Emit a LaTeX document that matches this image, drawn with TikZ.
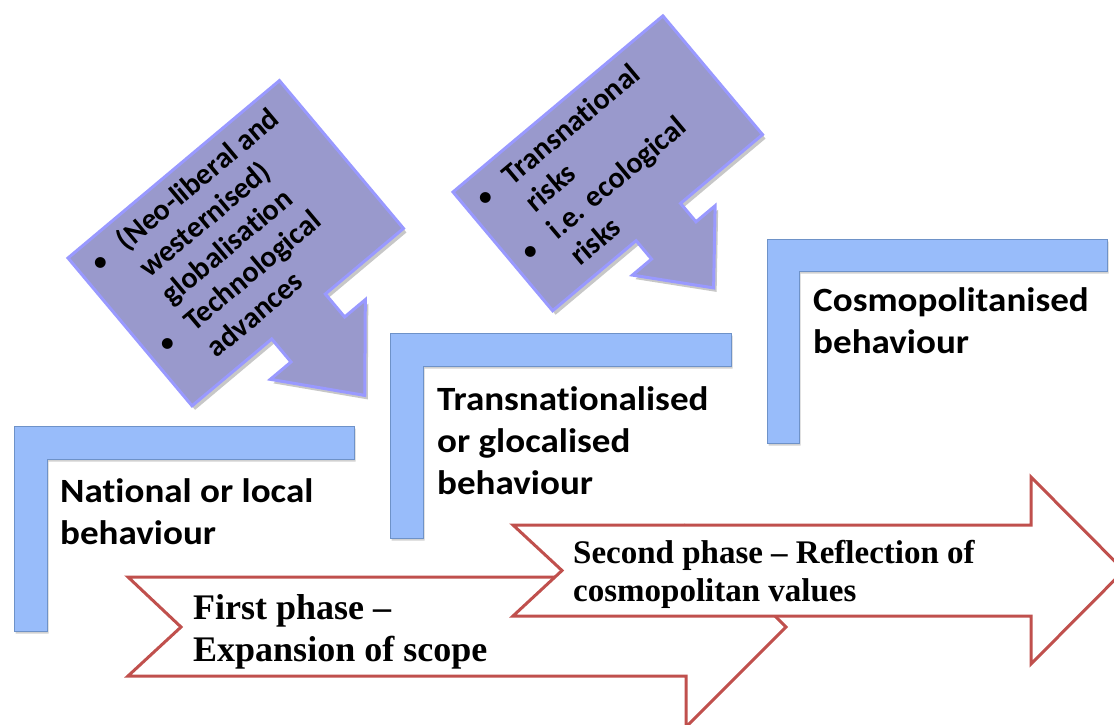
\documentclass[tikz,border=0pt]{standalone}
\usepackage{fontspec}
\newfontfamily\stagefont[FakeStretch=1.09,Ligatures=NoCommon]{Carlito}
\newfontfamily\calloutfont[Ligatures=NoCommon]{Carlito}
\newfontfamily\phasefont[Ligatures=TeX]{Liberation Serif}
\definecolor{stagefill}{RGB}{152,188,250}
\definecolor{stageline}{RGB}{110,146,200}
\definecolor{calloutfill}{RGB}{153,153,204}
\definecolor{calloutline}{RGB}{153,153,255}
\definecolor{phasered}{RGB}{192,80,77}
\begin{document}
\begin{tikzpicture}[x=1pt,y=-1pt,
  stage/.style={fill=stagefill, draw=stageline, line width=1pt},
  stageshadow/.style={fill=black, opacity=0.18},
  stagetext/.style={anchor=base west, inner sep=0pt, align=left,
    font=\stagefont\bfseries\fontsize{34}{42}\selectfont},
  callout/.style={fill=calloutfill, draw=calloutline, line width=3pt, line join=miter},
  calloutshadow/.style={fill=black, opacity=0.22},
  callouttext/.style={anchor=base west, inner sep=0pt, align=left, transform shape,
    font=\calloutfont\bfseries\fontsize{30}{35}\selectfont},
  phase/.style={fill=white, draw=phasered, line width=3pt, line join=miter},
  phasetext/.style={anchor=base west, inner sep=0pt, align=left,
    font=\phasefont\bfseries}
]
\useasboundingbox (0,0) rectangle (1114,724);
\clip (0,0) rectangle (1114,724);

% ---- stage brackets ----
\def\stagepath#1#2#3#4#5{% left, top, right, bottom, bar thickness
  (#1,#2) -- (#3,#2) -- (#3,#2+#5) -- (#1+#5,#2+#5) -- (#1+#5,#4) -- (#1,#4) -- cycle}
\fill[stageshadow] [shift={(1.5,2.5)}] \stagepath{14}{426}{354}{631}{33};
\fill[stageshadow] [shift={(1.5,2.5)}] \stagepath{390}{333}{731}{538}{33};
\fill[stageshadow] [shift={(1.5,2.5)}] \stagepath{767}{239}{1107}{443}{32};
\draw[stage] \stagepath{14}{426}{354}{631}{33};
\draw[stage] \stagepath{390}{333}{731}{538}{33};
\draw[stage] \stagepath{767}{239}{1107}{443}{32};

% multi-line nodes sit on the baseline of their last line
\node[stagetext] (national) at (60,544) {National or local\\behaviour};
\node[stagetext] (transnational) at (437,494) {Transnationalised\\or glocalised\\behaviour};
\node[stagetext] (cosmo) at (813,353) {Cosmopolitanised\\behaviour};

% ---- driver callouts (down-arrow callouts, tilted) ----
\def\calloutA{(0,0) -- (276,0) -- (276,193) -- (174,193) -- (174,223) -- (201,223)
  -- (139,296) -- (77,223) -- (104,223) -- (104,193) -- (0,193) -- cycle}
\def\calloutB{(0,0) -- (274,0) -- (274,155) -- (167,155) -- (167,179) -- (192,179)
  -- (138,241) -- (84,179) -- (109,179) -- (109,155) -- (0,155) -- cycle}
\def\bul{\makebox[34pt][l]{\raisebox{1pt}{\scalebox{0.85}{\textbullet}}}}

\begin{scope}[shift={(71,262)}, rotate=40]
  \fill[calloutshadow] \calloutA;
\end{scope}
\begin{scope}[shift={(68,258)}, rotate=40]
  \draw[callout] \calloutA;
  \node[callouttext] (drivers) at (15,173)
    {\bul(Neo-liberal and\\
     \hspace*{34pt}westernised)\\
     \hspace*{34pt}globalisation\\
     \bul Technological\\
     \hspace*{34pt}advances};
\end{scope}

\begin{scope}[shift={(456,196)}, rotate=40]
  \fill[calloutshadow] \calloutB;
\end{scope}
\begin{scope}[shift={(453,192)}, rotate=40]
  \draw[callout] \calloutB;
  \node[callouttext] (risks) at (15,139)
    {\bul Transnational\\
     \hspace*{34pt}risks\\
     \bul i.e. ecological\\
     \hspace*{34pt}risks};
\end{scope}

% ---- phase arrows ----
\draw[phase] (128,577) -- (686,577) -- (686,527) -- (786,627) -- (686,727)
  -- (686,676) -- (128,676) -- (181,627) -- cycle;
\node[phasetext, font=\phasefont\bfseries\fontsize{36}{42}\selectfont] (phase1) at (193,661)
  {First phase \textendash\\Expansion of scope};

\draw[phase] (513,525) -- (1031,525) -- (1031,477) -- (1124,570.5) -- (1031,664)
  -- (1031,616) -- (513,616) -- (562,570.5) -- cycle;
\node[phasetext, font=\phasefont\bfseries\fontsize{33}{38}\selectfont] (phase2) at (573,601)
  {Second phase \textendash{} Reflection of\\cosmopolitan values};
\end{tikzpicture}
\end{document}
